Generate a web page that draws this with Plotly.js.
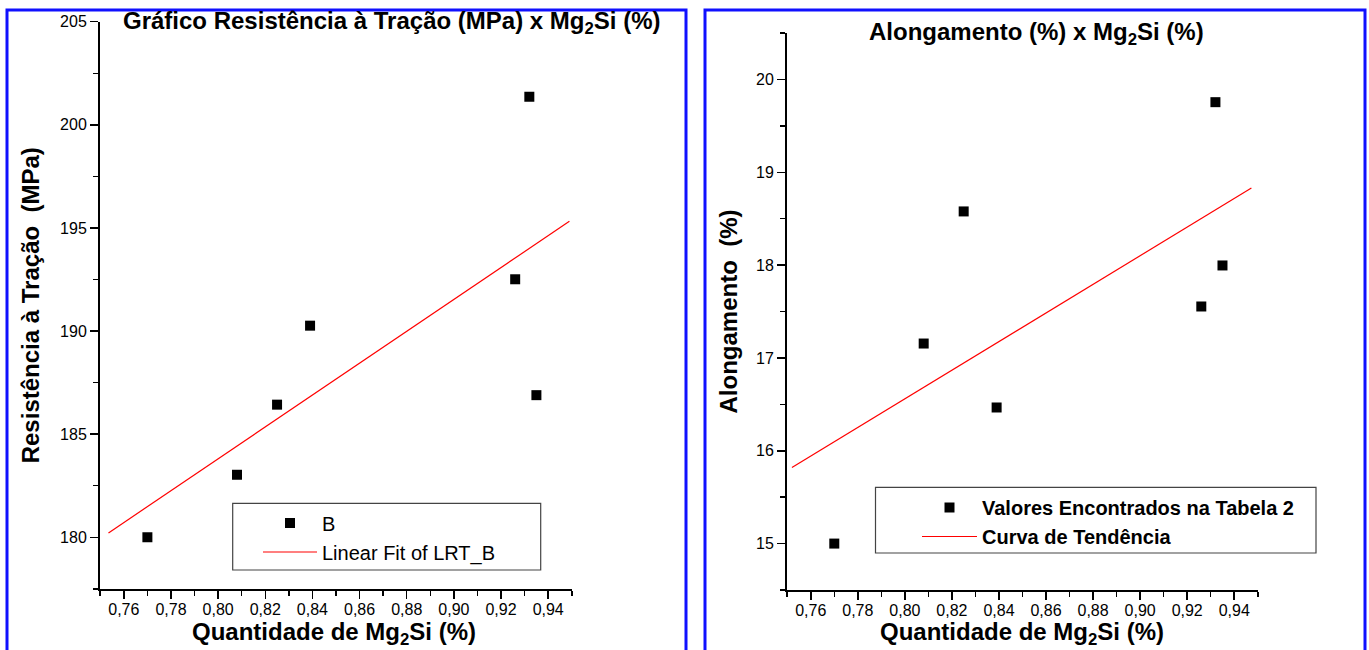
<!DOCTYPE html>
<html>
<head>
<meta charset="utf-8">
<script src="https://cdn.plot.ly/plotly-3.0.1.min.js"></script>
<style>html,body{margin:0;padding:0;background:#fff;}#chart{width:1369px;height:650px;}</style>
</head>
<body>
<div id="chart"></div>
<script>
// ---- data ----
const mg2si = [0.770, 0.808, 0.825, 0.839, 0.926, 0.932, 0.935];
const resistencia = [180.00, 183.03, 186.43, 190.26, 192.51, 201.36, 186.89];
const alongamento = [15.00, 17.155, 18.578, 16.466, 17.554, 19.755, 17.996];
const fitResX = [0.7535, 0.9490];
const fitResY = [180.21, 195.32];
const fitAloX = [0.7520, 0.9473];
const fitAloY = [15.82, 18.83];
const xTickVals = [0.76, 0.78, 0.80, 0.82, 0.84, 0.86, 0.88, 0.90, 0.92, 0.94];
const yResTicks = [180, 185, 190, 195, 200, 205];
const yAloTicks = [15, 16, 17, 18, 19, 20];
const xTitle = 'Quantidade de Mg<sub>2</sub>Si (%)';

const W = 1369, H = 650;
const px = v => v / W;
const py = v => 1 - v / H;
const FONT = 'Liberation Sans, Arial, Helvetica, sans-serif';
const TITLE_FONT = {family: FONT, size: 24, color: '#000', weight: 'bold'};

const traces = [
  {x: mg2si, y: resistencia, type: 'scatter', mode: 'markers', name: 'B',
   marker: {symbol: 'square', size: 10, color: '#000'}, xaxis: 'x', yaxis: 'y', legend: 'legend'},
  {x: fitResX, y: fitResY, type: 'scatter', mode: 'lines', name: 'Linear Fit of LRT_B',
   line: {color: '#ff0000', width: 1.2}, xaxis: 'x', yaxis: 'y', legend: 'legend'},
  {x: mg2si, y: alongamento, type: 'scatter', mode: 'markers', name: '<b>Valores Encontrados na Tabela 2</b>',
   marker: {symbol: 'square', size: 10, color: '#000'}, xaxis: 'x2', yaxis: 'y2', legend: 'legend2'},
  {x: fitAloX, y: fitAloY, type: 'scatter', mode: 'lines', name: '<b>Curva de Tendência</b>',
   line: {color: '#ff0000', width: 1.2}, xaxis: 'x2', yaxis: 'y2', legend: 'legend2'}
];

function xAxis(domain, anchor) {
  return {
    domain: domain, anchor: anchor, range: [0.7499, 0.9501],
    tickmode: 'array', tickvals: xTickVals, tickformat: '.2f',
    ticks: 'outside', ticklen: 8, tickwidth: 1.5, tickcolor: '#000', ticklabelstandoff: -3,
    minor: {tickmode: 'linear', tick0: 0.75, dtick: 0.01, ticks: 'outside', ticklen: 5, tickwidth: 1.5, tickcolor: '#000', showgrid: false},
    showline: true, linewidth: 2, linecolor: '#000', showgrid: false, zeroline: false,
    tickfont: {family: FONT, size: 16, color: '#000'},
    fixedrange: true
  };
}
function yAxis(domain, anchor, range, tickvals, minorDt, titleText, standoff) {
  return {
    domain: domain, anchor: anchor, range: range,
    tickmode: 'array', tickvals: tickvals,
    ticks: 'outside', ticklen: 8, tickwidth: 1.5, tickcolor: '#000',
    minor: {tickmode: 'linear', tick0: tickvals[0], dtick: minorDt, ticks: 'outside', ticklen: 5, tickwidth: 1.5, tickcolor: '#000', showgrid: false},
    showline: true, linewidth: 2, linecolor: '#000', showgrid: false, zeroline: false,
    tickfont: {family: FONT, size: 16, color: '#000'},
    title: {text: titleText, font: TITLE_FONT, standoff: standoff},
    fixedrange: true
  };
}

const layout = {
  width: W, height: H, margin: {l: 0, r: 0, t: 0, b: 0},
  paper_bgcolor: '#fff', plot_bgcolor: '#fff',
  separators: ',.',
  font: {family: FONT, color: '#000'},
  xaxis: xAxis([px(100), px(572)], 'y'),
  yaxis: yAxis([py(588.8), py(21.7)], 'x', [177.5, 205.0001], yResTicks, 2.5, 'Resistência à Tração\u00a0\u00a0(MPa)', 14),
  xaxis2: xAxis([px(787), px(1258)], 'y2'),
  yaxis2: yAxis([py(590), py(33)], 'x2', [14.5, 20.5001], yAloTicks, 0.5, 'Alongamento\u00a0\u00a0(%)', 12),
  legend: {x: px(258), y: py(503.5), xanchor: 'left', yanchor: 'top', itemwidth: 54,
           font: {family: FONT, size: 20, color: '#000'}, bgcolor: 'rgba(0,0,0,0)', borderwidth: 0, tracegroupgap: 0},
  legend2: {x: px(917), y: py(488), xanchor: 'left', yanchor: 'top', itemwidth: 55,
           font: {family: FONT, size: 20, color: '#000'}, bgcolor: 'rgba(0,0,0,0)', borderwidth: 0, tracegroupgap: 0},
  annotations: [
    {text: 'Gráfico Resistência à Tração (MPa) x Mg<sub>2</sub>Si (%)', xref: 'paper', yref: 'paper',
     x: px(392), y: py(23), xanchor: 'center', yanchor: 'middle', showarrow: false, font: TITLE_FONT},
    {text: 'Alongamento (%) x Mg<sub>2</sub>Si (%)', xref: 'paper', yref: 'paper',
     x: px(1036), y: py(33), xanchor: 'center', yanchor: 'middle', showarrow: false, font: TITLE_FONT},
    {text: xTitle, xref: 'paper', yref: 'paper', x: px(334), y: 0, xanchor: 'center', yanchor: 'bottom',
     borderpad: 0, showarrow: false, font: TITLE_FONT},
    {text: xTitle, xref: 'paper', yref: 'paper', x: px(1022), y: 0, xanchor: 'center', yanchor: 'bottom',
     borderpad: 0, showarrow: false, font: TITLE_FONT}
  ],
  shapes: [
    {type: 'rect', xref: 'paper', yref: 'paper', x0: px(7), x1: px(686), y0: py(10), y1: py(700),
     line: {color: '#1010ff', width: 3}},
    {type: 'rect', xref: 'paper', yref: 'paper', x0: px(705), x1: px(1365), y0: py(10), y1: py(700),
     line: {color: '#1010ff', width: 3}},
    {type: 'rect', xref: 'paper', yref: 'paper', x0: px(232.7), x1: px(540.7), y0: py(503.3), y1: py(570),
     line: {color: '#444', width: 1.2}},
    {type: 'rect', xref: 'paper', yref: 'paper', x0: px(875.5), x1: px(1316), y0: py(487.3), y1: py(553),
     line: {color: '#444', width: 1.2}}
  ]
};

Plotly.newPlot('chart', traces, layout, {staticPlot: true, displayModeBar: false});
</script>
</body>
</html>
